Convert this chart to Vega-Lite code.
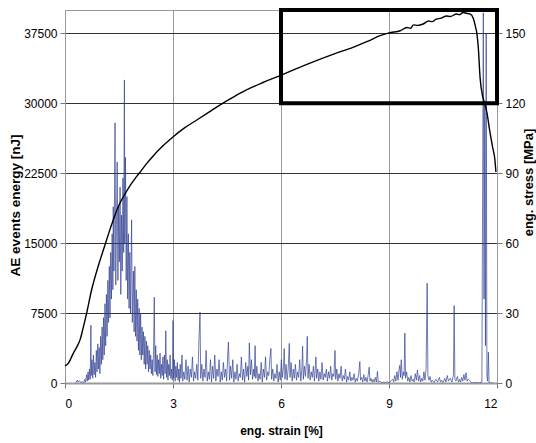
{
  "$schema": "https://vega.github.io/schema/vega-lite/v6.json",
  "width": 432,
  "height": 373,
  "autosize": "none",
  "padding": {"left": 65, "top": 10, "right": 39, "bottom": 60},
  "background": "white",
  "config": {
    "view": {"stroke": "#999", "strokeWidth": 1},
    "axis": {"labelFont": "Liberation Sans", "labelFontSize": 12, "labelColor": "#000", "titleFont": "Liberation Sans", "titleFontSize": 12, "titleFontWeight": "bold", "titleColor": "#000", "domainColor": "#999", "tickColor": "#777", "tickSize": 5}
  },
  "datasets": {
    "ae": [
      {"s":0.30,"e":0},{"s":0.34,"e":300},{"s":0.36,"e":100},{"s":0.40,"e":250},{"s":0.44,"e":50},{"s":0.48,"e":150},{"s":0.52,"e":0},{"s":0.55,"e":400},{"s":0.57,"e":100},{"s":0.60,"e":900},{"s":0.62,"e":200},{"s":0.64,"e":1200},{"s":0.66,"e":300},{"s":0.68,"e":1500},{"s":0.70,"e":400},{"s":0.72,"e":6200},{"s":0.73,"e":800},{"s":0.75,"e":2500},{"s":0.77,"e":500},{"s":0.79,"e":3000},{"s":0.81,"e":900},{"s":0.83,"e":2200},{"s":0.85,"e":600},{"s":0.87,"e":3500},{"s":0.89,"e":1200},{"s":0.91,"e":4200},{"s":0.93,"e":1500},{"s":0.95,"e":3800},{"s":0.97,"e":1000},{"s":0.99,"e":5000},
      {"s":1.01,"e":2000},{"s":1.03,"e":6000},{"s":1.05,"e":2500},{"s":1.07,"e":7000},{"s":1.09,"e":3000},{"s":1.11,"e":8500},{"s":1.13,"e":4000},{"s":1.15,"e":9500},{"s":1.17,"e":5000},{"s":1.19,"e":11000},{"s":1.21,"e":6500},{"s":1.23,"e":12500},{"s":1.25,"e":7000},{"s":1.27,"e":14000},{"s":1.29,"e":9000},{"s":1.31,"e":16000},{"s":1.33,"e":10000},{"s":1.34,"e":18900},{"s":1.36,"e":12000},{"s":1.39,"e":27900},{"s":1.41,"e":10500},{"s":1.43,"e":17000},{"s":1.45,"e":23700},{"s":1.47,"e":11000},{"s":1.49,"e":19000},{"s":1.51,"e":13000},{"s":1.53,"e":21000},{"s":1.55,"e":9500},{"s":1.57,"e":18000},{"s":1.59,"e":12000},{"s":1.61,"e":22000},{"s":1.63,"e":14000},{"s":1.65,"e":32500},{"s":1.66,"e":15000},{"s":1.68,"e":24200},{"s":1.70,"e":11000},{"s":1.72,"e":20000},{"s":1.74,"e":9000},{"s":1.76,"e":16000},{"s":1.78,"e":8000},{"s":1.80,"e":14000},{"s":1.82,"e":7500},{"s":1.85,"e":17500},{"s":1.87,"e":6500},{"s":1.90,"e":12000},{"s":1.92,"e":5500},{"s":1.94,"e":12500},{"s":1.96,"e":5000},{"s":1.98,"e":10000},
      {"s":2.00,"e":4500},{"s":2.02,"e":9000},{"s":2.04,"e":3500},{"s":2.06,"e":8000},{"s":2.08,"e":3000},{"s":2.10,"e":7500},{"s":2.12,"e":2500},{"s":2.14,"e":6000},{"s":2.16,"e":3000},{"s":2.18,"e":5500},{"s":2.20,"e":2000},{"s":2.22,"e":5000},{"s":2.24,"e":1500},{"s":2.26,"e":4500},{"s":2.28,"e":2000},{"s":2.30,"e":4000},{"s":2.32,"e":1200},{"s":2.34,"e":3500},{"s":2.36,"e":1500},{"s":2.38,"e":3000},{"s":2.40,"e":1000},{"s":2.42,"e":2500},{"s":2.44,"e":800},{"s":2.46,"e":3500},{"s":2.48,"e":9200},{"s":2.50,"e":1200},{"s":2.52,"e":4000},{"s":2.54,"e":900},{"s":2.56,"e":3000},{"s":2.58,"e":700},{"s":2.60,"e":2500},{"s":2.62,"e":1000},{"s":2.64,"e":3200},{"s":2.66,"e":500},{"s":2.68,"e":2000},{"s":2.70,"e":800},{"s":2.72,"e":2800},{"s":2.74,"e":400},{"s":2.76,"e":3000},{"s":2.78,"e":1000},{"s":2.80,"e":5600},{"s":2.82,"e":600},{"s":2.84,"e":2500},{"s":2.86,"e":300},{"s":2.88,"e":2000},{"s":2.90,"e":800},{"s":2.92,"e":3000},{"s":2.94,"e":500},{"s":2.96,"e":1500},{"s":2.98,"e":300},
      {"s":3.00,"e":6700},{"s":3.02,"e":500},{"s":3.04,"e":2500},{"s":3.06,"e":200},{"s":3.08,"e":1800},{"s":3.10,"e":600},{"s":3.12,"e":2200},{"s":3.14,"e":300},{"s":3.16,"e":1500},{"s":3.18,"e":100},{"s":3.20,"e":2000},{"s":3.22,"e":500},{"s":3.25,"e":3000},{"s":3.27,"e":200},{"s":3.30,"e":1200},{"s":3.33,"e":400},{"s":3.36,"e":2500},{"s":3.39,"e":300},{"s":3.42,"e":1800},{"s":3.45,"e":100},{"s":3.48,"e":1500},{"s":3.51,"e":600},{"s":3.54,"e":2800},{"s":3.57,"e":200},{"s":3.60,"e":1200},{"s":3.63,"e":500},{"s":3.66,"e":2000},{"s":3.69,"e":300},{"s":3.72,"e":4500},{"s":3.75,"e":7600},{"s":3.77,"e":500},{"s":3.80,"e":2000},{"s":3.83,"e":200},{"s":3.86,"e":1500},{"s":3.89,"e":600},{"s":3.92,"e":3500},{"s":3.95,"e":200},{"s":3.98,"e":1200},
      {"s":4.01,"e":400},{"s":4.04,"e":2500},{"s":4.07,"e":100},{"s":4.10,"e":1800},{"s":4.13,"e":500},{"s":4.16,"e":3000},{"s":4.19,"e":200},{"s":4.22,"e":1500},{"s":4.25,"e":700},{"s":4.28,"e":2500},{"s":4.31,"e":100},{"s":4.34,"e":1200},{"s":4.37,"e":300},{"s":4.40,"e":2200},{"s":4.43,"e":600},{"s":4.46,"e":1500},{"s":4.49,"e":200},{"s":4.52,"e":3000},{"s":4.54,"e":4400},{"s":4.57,"e":300},{"s":4.60,"e":1800},{"s":4.63,"e":500},{"s":4.66,"e":2500},{"s":4.69,"e":100},{"s":4.72,"e":1200},{"s":4.75,"e":400},{"s":4.78,"e":2000},{"s":4.81,"e":200},{"s":4.84,"e":1000},{"s":4.87,"e":600},{"s":4.90,"e":2800},{"s":4.93,"e":300},{"s":4.96,"e":1500},{"s":4.99,"e":100},
      {"s":5.02,"e":2200},{"s":5.05,"e":700},{"s":5.08,"e":1800},{"s":5.10,"e":300},{"s":5.12,"e":4300},{"s":5.15,"e":900},{"s":5.18,"e":2500},{"s":5.21,"e":400},{"s":5.24,"e":1500},{"s":5.26,"e":700},{"s":5.28,"e":4000},{"s":5.30,"e":500},{"s":5.33,"e":1800},{"s":5.36,"e":200},{"s":5.39,"e":1000},{"s":5.42,"e":400},{"s":5.45,"e":2200},{"s":5.48,"e":100},{"s":5.51,"e":1500},{"s":5.54,"e":600},{"s":5.57,"e":2800},{"s":5.60,"e":300},{"s":5.63,"e":1200},{"s":5.66,"e":800},{"s":5.69,"e":2500},{"s":5.72,"e":3700},{"s":5.74,"e":400},{"s":5.77,"e":1500},{"s":5.80,"e":200},{"s":5.83,"e":1000},{"s":5.86,"e":500},{"s":5.89,"e":2000},{"s":5.92,"e":100},{"s":5.95,"e":1200},{"s":5.98,"e":300},
      {"s":6.01,"e":2500},{"s":6.04,"e":600},{"s":6.07,"e":1800},{"s":6.09,"e":3700},{"s":6.11,"e":400},{"s":6.14,"e":2000},{"s":6.17,"e":300},{"s":6.20,"e":1500},{"s":6.23,"e":4250},{"s":6.25,"e":600},{"s":6.28,"e":2200},{"s":6.31,"e":200},{"s":6.34,"e":1500},{"s":6.37,"e":500},{"s":6.40,"e":2000},{"s":6.43,"e":300},{"s":6.46,"e":1200},{"s":6.49,"e":600},{"s":6.52,"e":2500},{"s":6.55,"e":200},{"s":6.58,"e":1500},{"s":6.60,"e":3950},{"s":6.62,"e":400},{"s":6.65,"e":1800},{"s":6.68,"e":700},{"s":6.71,"e":2500},{"s":6.73,"e":5000},{"s":6.75,"e":500},{"s":6.78,"e":2000},{"s":6.81,"e":300},{"s":6.84,"e":1200},{"s":6.87,"e":600},{"s":6.90,"e":1800},{"s":6.93,"e":200},{"s":6.97,"e":2800},{"s":6.99,"e":500},
      {"s":7.02,"e":1500},{"s":7.05,"e":200},{"s":7.08,"e":1200},{"s":7.11,"e":400},{"s":7.14,"e":2200},{"s":7.17,"e":300},{"s":7.20,"e":1000},{"s":7.23,"e":600},{"s":7.26,"e":1500},{"s":7.29,"e":200},{"s":7.32,"e":1200},{"s":7.35,"e":500},{"s":7.38,"e":1800},{"s":7.41,"e":300},{"s":7.44,"e":1000},{"s":7.47,"e":700},{"s":7.50,"e":3500},{"s":7.52,"e":400},{"s":7.55,"e":1500},{"s":7.58,"e":200},{"s":7.61,"e":1000},{"s":7.64,"e":500},{"s":7.67,"e":1800},{"s":7.70,"e":200},{"s":7.73,"e":800},{"s":7.76,"e":400},{"s":7.79,"e":1500},{"s":7.82,"e":100},{"s":7.85,"e":700},{"s":7.88,"e":300},{"s":7.91,"e":1200},{"s":7.94,"e":200},{"s":7.97,"e":600},
      {"s":8.00,"e":300},{"s":8.03,"e":1000},{"s":8.06,"e":100},{"s":8.09,"e":500},{"s":8.12,"e":200},{"s":8.16,"e":1000},{"s":8.19,"e":2300},{"s":8.21,"e":300},{"s":8.24,"e":600},{"s":8.27,"e":100},{"s":8.30,"e":900},{"s":8.33,"e":200},{"s":8.36,"e":600},{"s":8.39,"e":100},{"s":8.42,"e":800},{"s":8.45,"e":1700},{"s":8.47,"e":200},{"s":8.50,"e":500},{"s":8.53,"e":100},{"s":8.56,"e":400},{"s":8.59,"e":100},{"s":8.62,"e":600},{"s":8.65,"e":100},{"s":8.68,"e":1250},{"s":8.70,"e":100},{"s":8.75,"e":200},{"s":8.80,"e":0},{"s":8.85,"e":100},{"s":8.90,"e":0},{"s":8.95,"e":150},{"s":9.00,"e":0},
      {"s":9.05,"e":200},{"s":9.10,"e":400},{"s":9.13,"e":100},{"s":9.16,"e":800},{"s":9.19,"e":200},{"s":9.22,"e":1200},{"s":9.25,"e":300},{"s":9.28,"e":1500},{"s":9.30,"e":1900},{"s":9.32,"e":600},{"s":9.34,"e":2500},{"s":9.37,"e":400},{"s":9.40,"e":1200},{"s":9.42,"e":800},{"s":9.44,"e":5350},{"s":9.46,"e":500},{"s":9.49,"e":1200},{"s":9.52,"e":200},{"s":9.55,"e":600},{"s":9.58,"e":100},{"s":9.61,"e":800},{"s":9.64,"e":200},{"s":9.67,"e":400},{"s":9.70,"e":100},{"s":9.73,"e":1000},{"s":9.76,"e":300},{"s":9.79,"e":1400},{"s":9.82,"e":200},{"s":9.85,"e":800},{"s":9.88,"e":100},{"s":9.91,"e":500},{"s":9.94,"e":200},{"s":9.97,"e":1200},
      {"s":10.00,"e":300},{"s":10.03,"e":1500},{"s":10.06,"e":10700},{"s":10.08,"e":800},{"s":10.11,"e":300},{"s":10.14,"e":700},{"s":10.17,"e":100},{"s":10.20,"e":300},{"s":10.25,"e":50},{"s":10.30,"e":400},{"s":10.35,"e":100},{"s":10.40,"e":600},{"s":10.43,"e":100},{"s":10.46,"e":300},{"s":10.50,"e":50},{"s":10.55,"e":500},{"s":10.58,"e":100},{"s":10.62,"e":800},{"s":10.65,"e":200},{"s":10.70,"e":500},{"s":10.75,"e":100},{"s":10.79,"e":900},{"s":10.81,"e":8300},{"s":10.83,"e":400},{"s":10.86,"e":200},{"s":10.90,"e":700},{"s":10.93,"e":100},{"s":10.96,"e":400},{"s":10.99,"e":100},
      {"s":11.02,"e":600},{"s":11.05,"e":200},{"s":11.08,"e":900},{"s":11.11,"e":300},{"s":11.14,"e":1100},{"s":11.17,"e":200},{"s":11.20,"e":400},{"s":11.30,"e":0},{"s":11.40,"e":50},{"s":11.50,"e":0},{"s":11.58,"e":100},{"s":11.62,"e":39700},{"s":11.64,"e":9000},{"s":11.66,"e":30000},{"s":11.68,"e":4000},{"s":11.70,"e":37500},{"s":11.72,"e":700},{"s":11.74,"e":200},{"s":11.76,"e":3300},{"s":11.78,"e":0},{"s":11.90,"e":0}
    ],
    "stress": [
      {"s":0,"p":7.3},{"s":0.09,"p":8.4},{"s":0.23,"p":12.7},{"s":0.33,"p":15.5},{"s":0.42,"p":18.6},{"s":0.51,"p":24},{"s":0.6,"p":29.9},{"s":0.74,"p":40},{"s":0.93,"p":50.5},{"s":1.11,"p":59.2},{"s":1.22,"p":64.5},{"s":1.34,"p":69.9},{"s":1.45,"p":74.5},{"s":1.57,"p":78.5},{"s":1.7,"p":82},{"s":1.83,"p":85.2},{"s":1.95,"p":87.8},{"s":2.08,"p":90.3},{"s":2.25,"p":93.8},{"s":2.45,"p":97.4},{"s":2.7,"p":101.4},{"s":2.99,"p":105.4},{"s":3.3,"p":109.2},{"s":3.66,"p":112.8},{"s":4.0,"p":116.2},{"s":4.31,"p":119.3},{"s":4.65,"p":122.4},{"s":5.0,"p":125.4},{"s":5.5,"p":128.9},{"s":6.0,"p":132},{"s":6.5,"p":135.3},{"s":7.0,"p":138.4},{"s":7.5,"p":141.3},{"s":8.0,"p":144},{"s":8.4,"p":146.5},{"s":8.75,"p":149},{"s":9.03,"p":150.3},{"s":9.31,"p":151.1},{"s":9.5,"p":152.5},{"s":9.6,"p":152.2},{"s":9.68,"p":153.6},{"s":9.8,"p":153.4},{"s":9.95,"p":154},{"s":10.1,"p":155.3},{"s":10.2,"p":155},{"s":10.3,"p":156},{"s":10.45,"p":156.5},{"s":10.6,"p":157.4},{"s":10.7,"p":157.2},{"s":10.88,"p":158.3},{"s":10.95,"p":158},{"s":11.06,"p":158.9},{"s":11.15,"p":158.6},{"s":11.25,"p":158.3},{"s":11.34,"p":156.5},{"s":11.40,"p":153},{"s":11.44,"p":150},{"s":11.48,"p":144},{"s":11.53,"p":131},{"s":11.60,"p":123},{"s":11.66,"p":120},{"s":11.72,"p":116},{"s":11.80,"p":108},{"s":11.88,"p":101},{"s":11.94,"p":96},{"s":11.97,"p":90.5}
    ],
    "box": [{"x1":6,"x2":12,"y1":30000,"y2":40000}]
  },
  "layer": [
    {
      "data": {"name": "ae"},
      "mark": {"type": "line", "color": "#2e3d90", "strokeWidth": 0.75, "opacity": 0.9, "clip": true},
      "encoding": {
        "x": {"field": "s", "type": "quantitative", "scale": {"domain": [0, 12]},
          "axis": {"title": "eng. strain [%]", "values": [0, 3, 6, 9, 12], "grid": true, "gridColor": "#999", "domainColor": "#999", "domainWidth": 2, "labelPadding": 10, "titleBaseline": "middle", "titleY": 47}},
        "y": {"field": "e", "type": "quantitative", "scale": {"domain": [0, 40000]},
          "axis": {"orient": "left", "title": "AE events energy [nJ]", "titleFontSize": 13.5, "values": [0, 7500, 15000, 22500, 30000, 37500], "format": "d", "grid": true, "gridColor": "#333", "labelPadding": 3, "titleAngle": -90, "titleBaseline": "middle", "titleAlign": "center", "titleX": -50, "titleY": 195}}
      }
    },
    {
      "data": {"name": "stress"},
      "mark": {"type": "line", "color": "#000", "strokeWidth": 1.4, "interpolate": "monotone"},
      "encoding": {
        "x": {"field": "s", "type": "quantitative", "scale": {"domain": [0, 12]}},
        "y": {"field": "p", "type": "quantitative", "scale": {"domain": [0, 160]},
          "axis": {"orient": "right", "title": "eng. stress [MPa]", "titleFontSize": 13, "values": [0, 30, 60, 90, 120, 150], "grid": false, "labelPadding": 3, "titleAngle": -90, "titleBaseline": "middle", "titleAlign": "center", "titleX": 31, "titleY": 172}}
      }
    },
    {
      "data": {"name": "box"},
      "mark": {"type": "rect", "fill": null, "fillOpacity": 0, "stroke": "#000", "strokeWidth": 4},
      "encoding": {
        "x": {"field": "x1", "type": "quantitative", "scale": {"domain": [0, 12]}},
        "x2": {"field": "x2"},
        "y": {"field": "y1", "type": "quantitative", "scale": {"domain": [0, 40000]}, "axis": null},
        "y2": {"field": "y2"}
      }
    }
  ],
  "resolve": {"scale": {"y": "independent"}}
}
